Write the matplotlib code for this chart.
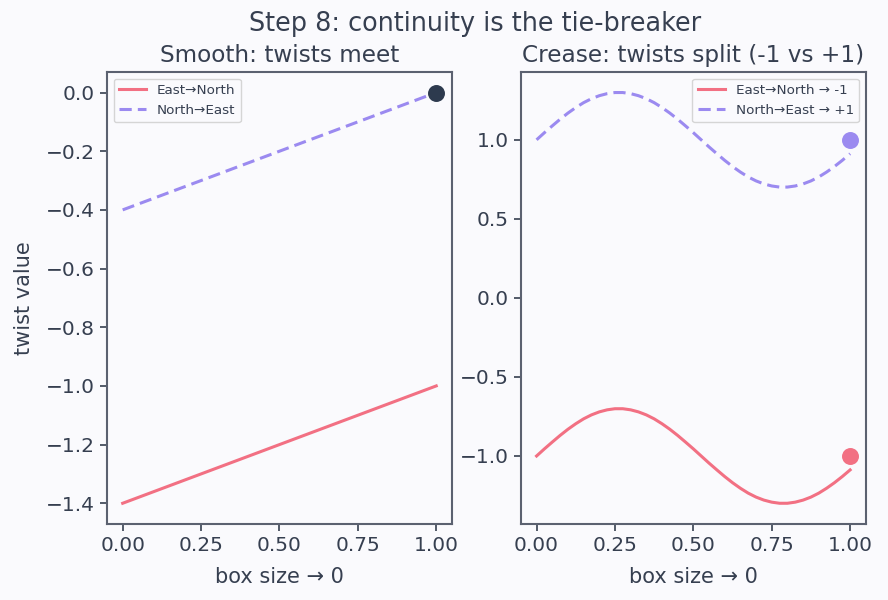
import matplotlib
matplotlib.use("Agg")
import matplotlib.pyplot as plt

# ---- data ----
smooth_x = [0.0, 1.0]
smooth_east_north = [-1.4, -1.0]
smooth_north_east = [-0.4, 0.0]
smooth_meet = (1.0, 0.0)

crease_x = [0.000, 0.025, 0.050, 0.075, 0.100, 0.125, 0.150, 0.175, 0.200, 0.225,
            0.250, 0.275, 0.300, 0.325, 0.350, 0.375, 0.400, 0.425, 0.450, 0.475,
            0.500, 0.525, 0.550, 0.575, 0.600, 0.625, 0.650, 0.675, 0.700, 0.725,
            0.750, 0.775, 0.800, 0.825, 0.850, 0.875, 0.900, 0.925, 0.950, 0.975,
            1.000]
crease_east_north = [-1.000, -0.955, -0.912, -0.870, -0.831, -0.796, -0.765, -0.740, -0.721, -0.708,
                     -0.701, -0.701, -0.708, -0.721, -0.740, -0.765, -0.796, -0.831, -0.870, -0.912,
                     -0.955, -1.000, -1.045, -1.088, -1.130, -1.169, -1.204, -1.235, -1.260, -1.279,
                     -1.292, -1.299, -1.299, -1.292, -1.279, -1.260, -1.235, -1.204, -1.169, -1.130,
                     -1.088]
crease_north_east = [1.000, 1.045, 1.088, 1.130, 1.169, 1.204, 1.235, 1.260, 1.279, 1.292,
                     1.299, 1.299, 1.292, 1.279, 1.260, 1.235, 1.204, 1.169, 1.130, 1.088,
                     1.045, 1.000, 0.955, 0.912, 0.870, 0.831, 0.796, 0.765, 0.740, 0.721,
                     0.708, 0.701, 0.701, 0.708, 0.721, 0.740, 0.765, 0.796, 0.831, 0.870,
                     0.912]
crease_limits_x = [1.0, 1.0]
crease_limits_y = [-1.0, 1.0]

xticks = [0.0, 0.25, 0.5, 0.75, 1.0]

# ---- style ----
BG = "#fafafd"
TXT = "#363f50"
SPINE = "#5b6170"
RED = "#f27083"
PURPLE = "#9b8af0"
NAVY = "#2d3a4e"

plt.rcParams.update({
    "font.family": ["DejaVu Sans"],
    "text.color": TXT,
    "axes.labelcolor": TXT,
    "xtick.color": TXT,
    "ytick.color": TXT,
    "axes.edgecolor": SPINE,
    "figure.facecolor": BG,
    "axes.facecolor": BG,
})

fig, (ax1, ax2) = plt.subplots(1, 2, figsize=(8.88, 6.0), dpi=100)
fig.subplots_adjust(left=0.1205, right=0.975, top=0.88, bottom=0.127, wspace=0.2)

# left panel
ax1.plot(smooth_x, smooth_east_north, color=RED, lw=2.2, label="East\u2192North")
ax1.plot(smooth_x, smooth_north_east, color=PURPLE, lw=2.2, ls="--", dashes=(4, 2), label="North\u2192East")
ax1.scatter([smooth_meet[0]], [smooth_meet[1]], s=125, color=NAVY, zorder=5)
ax1.set_title("Smooth: twists meet", fontsize=16.7, color=TXT, pad=7)
ax1.set_xlabel("box size \u2192 0", fontsize=15, labelpad=9)
ax1.set_ylabel("twist value", fontsize=15, labelpad=9)
ax1.set_xticks(xticks)
ax1.set_yticks([0.0, -0.2, -0.4, -0.6, -0.8, -1.0, -1.2, -1.4])
ax1.set_ylim(-1.47, 0.07)
ax1.legend(loc="upper left", fontsize=9.7, framealpha=0.8)

# right panel
ax2.plot(crease_x, crease_east_north, color=RED, lw=2.2, label="East\u2192North \u2192 -1")
ax2.plot(crease_x, crease_north_east, color=PURPLE, lw=2.2, ls="--", dashes=(4, 2), label="North\u2192East \u2192 +1")
ax2.scatter([crease_limits_x[0]], [crease_limits_y[0]], s=125, color=RED, zorder=5)
ax2.scatter([crease_limits_x[1]], [crease_limits_y[1]], s=125, color=PURPLE, zorder=5)
ax2.set_title("Crease: twists split (-1 vs +1)", fontsize=16.7, color=TXT, pad=7)
ax2.set_xlabel("box size \u2192 0", fontsize=15, labelpad=9)
ax2.set_xticks(xticks)
ax2.set_yticks([1.0, 0.5, 0.0, -0.5, -1.0])
ax2.legend(loc="upper right", fontsize=9.7, framealpha=0.8)

for ax in (ax1, ax2):
    ax.tick_params(labelsize=14.5, length=5, width=1.2)
    for s in ax.spines.values():
        s.set_linewidth(1.5)
    ax.set_xlim(-0.05, 1.05)

fig.suptitle("Step 8: continuity is the tie-breaker", fontsize=18.4, color=TXT,
             x=0.535, y=0.982)

fig.savefig("out.png", dpi=100, facecolor=BG)
